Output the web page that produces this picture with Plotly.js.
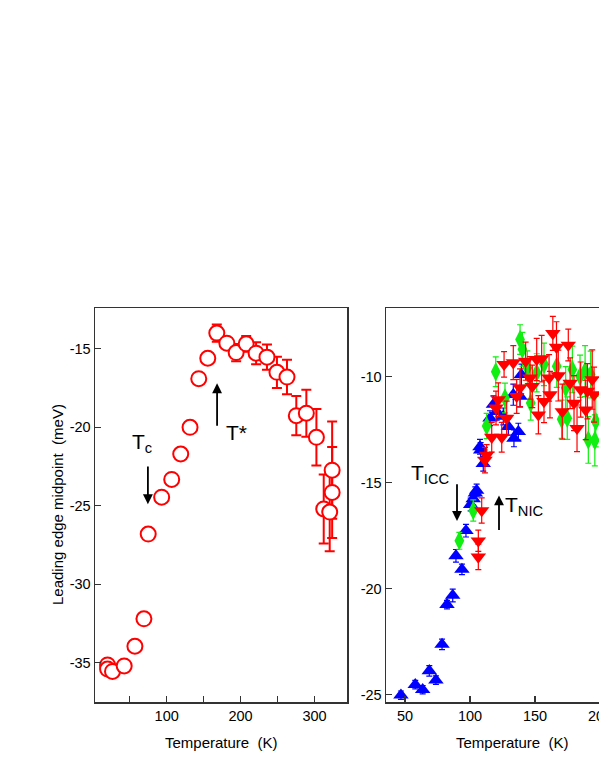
<!DOCTYPE html>
<html>
<head>
<meta charset="utf-8">
<script src="https://cdn.plot.ly/plotly-3.0.1.min.js"></script>
<style>
  body { margin: 0; overflow: hidden; background: #fff; }
</style>
</head>
<body>
<div id="myDiv" style="width:660px;height:776px;"></div>
<script>
// left panel: leading edge midpoint vs temperature
var tempA = [20, 20, 26.7, 42.5, 57, 69.2, 75, 93.2, 106.8, 119, 131.6, 143.4, 155.6,
             167.8, 181.4, 194, 207.6, 221, 235.7, 249.2, 262.8, 275.4, 289, 302.6,
             312.5, 320.6, 323.9, 323.9];
var edgeA = [-35.14, -35.4, -35.55, -35.2, -33.95, -32.2, -26.8, -24.45, -23.32, -21.7, -20.0, -16.9, -15.6,
             -14.0, -14.64, -15.24, -14.68, -15.28, -15.53, -16.5, -16.8, -19.26, -19.1, -20.64,
             -25.2, -25.4, -22.73, -24.15];
var errA  = [0, 0, 0, 0, 0, 0, 0, 0, 0, 0, 0, 0, 0,
             0.55, 0.3, 0.55, 0.5, 0.7, 0.8, 1.0, 1.1, 1.25, 1.5, 1.8,
             2.2, 2.5, 3.1, 2.9];

// right panel: three data sets
var tempBlue = [46.9, 57.9, 63.6, 68.7, 73.8, 78.5, 82.3, 86.7, 89.2, 93.8, 96.9, 100.5, 102.5,
                104.1, 105.1, 107.7, 110.2, 108.2, 115.4, 118, 120.5, 125.6, 129.5, 133.8,
                137.2, 133.3, 138.5, 139.5];
var edgeBlue = [-25.03, -24.53, -24.77, -23.88, -24.32, -22.63, -20.75, -20.32, -18.45, -19.09, -17.26, -16.03, -15.76,
                -15.49, -15.36, -13.3, -14.1, -13.46, -11.95, -11.3, -11.64, -11.87, -12.35, -12.9,
                -12.59, -10.84, -10.92, -9.9];
var errBlue  = [0.2, 0.2, 0.2, 0.25, 0.2, 0.25, 0.2, 0.3, 0.3, 0.25, 0.3, 0.3, 0.3,
                0.3, 0.3, 0.35, 0.35, 0.35, 0.35, 0.4, 0.4, 0.4, 0.4, 0.4,
                0.4, 0.5, 0.5, 0.5];

var tempGreen = [91.8, 102.5, 112.8, 119.8, 126.9, 138.5, 140.3, 144.1, 146.7, 151.3, 156.9, 166.7,
                 170.5, 173.6, 174.8, 178.7, 184.6, 188.5, 191, 192.8, 196.7, 196];
var edgeGreen = [-17.74, -16.31, -12.32, -9.76, -11.0, -8.24, -8.7, -9.57, -11.24, -9.81, -9.41, -9.5,
                 -12.0, -10.52, -11.95, -9.65, -9.97, -9.73, -12.98, -9.89, -12.11, -13.0];
var errGreen  = [0.4, 0.5, 0.6, 0.7, 0.7, 0.7, 0.8, 0.8, 0.8, 0.9, 1.0, 1.0,
                 0.9, 1.0, 1.0, 1.1, 1.0, 1.2, 1.1, 1.1, 1.2, 1.2];

var tempRed = [106.4, 106.4, 109, 111.5, 112.8, 116.7, 124.4, 120, 121.8, 128.2, 126.2, 133.3,
               135.9, 138.5, 142.8, 146.2, 147.9, 151.3, 155.1, 152.6, 156.9, 160.8, 161.5,
               163.7, 166.5, 167.9, 171, 175.6, 177, 180, 182.3, 185.1, 189, 190.3, 194, 195.4];
var edgeRed = [-18.5, -17.74, -16.31, -13.93, -13.7, -12.85, -12.85, -11.47, -11.08, -11.95, -9.41, -9.33,
               -10.92, -10.52, -9.26, -10.05, -10.45, -9.18, -9.14, -11.79, -11.16, -10.05, -10.84,
               -7.95, -8.6, -9.94, -11.64, -8.5, -10.3, -11.24, -12.43, -10.6, -11.56, -10.68, -10.13, -10.84];
var errRed  = [0.6, 0.5, 0.6, 0.6, 0.5, 0.7, 0.7, 0.8, 0.8, 0.8, 0.6, 0.8,
               0.8, 0.9, 0.9, 1.0, 1.0, 1.0, 1.1, 0.9, 1.0, 1.1, 1.1,
               0.8, 1.2, 1.2, 1.3, 0.75, 1.2, 1.3, 1.1, 1.3, 1.4, 1.3, 1.4, 1.3];

// tick labels (plain hyphen as in the original figure)
var yTicksA = [-35, -30, -25, -20, -15];
var yLabelsA = ['-35', '-30', '-25', '-20', '-15'];
var yTicksB = [-25, -20, -15, -10];
var yLabelsB = ['-25', '-20', '-15', '-10'];

var W = 660, H = 776;
var fnt = 'Liberation Sans, Arial, sans-serif';

var data = [
  {
    x: tempA, y: edgeA, xaxis: 'x', yaxis: 'y',
    type: 'scatter', mode: 'markers',
    marker: { symbol: 'circle', size: 15, color: '#ffffff', line: { color: '#ff0000', width: 2 } },
    error_y: { type: 'data', array: errA, visible: true, color: '#ff0000', thickness: 2, width: 5 }
  },
  {
    x: tempBlue, y: edgeBlue, xaxis: 'x2', yaxis: 'y2',
    type: 'scatter', mode: 'markers',
    marker: { symbol: 'triangle-up', size: 13.5, color: '#0000ff' },
    error_y: { type: 'data', array: errBlue, visible: true, color: '#0000ff', thickness: 1.2, width: 3 }
  },
  {
    x: tempGreen, y: edgeGreen, xaxis: 'x2', yaxis: 'y2',
    type: 'scatter', mode: 'markers',
    marker: { symbol: 'diamond-tall', size: 14, color: '#11ee11' },
    error_y: { type: 'data', array: errGreen, visible: true, color: '#11ee11', thickness: 1.2, width: 3 }
  },
  {
    x: tempRed, y: edgeRed, xaxis: 'x2', yaxis: 'y2',
    type: 'scatter', mode: 'markers',
    marker: { symbol: 'triangle-down', size: 13.5, color: '#ff0000' },
    error_y: { type: 'data', array: errRed, visible: true, color: '#ff0000', thickness: 1.2, width: 3 }
  }
];

var axisStyle = {
  showline: true, mirror: true, linecolor: '#333', linewidth: 1.5,
  ticks: 'inside', ticklen: 6, tickcolor: '#333', tickwidth: 1.2,
  showgrid: false, zeroline: false,
  tickfont: { family: fnt, size: 14.5, color: '#000' }
};

function ax(extra) { return Object.assign({}, axisStyle, extra); }

var yDom = [(H - 702) / H, (H - 308) / H];

function arrow(xr, yr, x, y, axv, ayv) {
  return { xref: xr, yref: yr, axref: xr, ayref: yr, x: x, y: y, ax: axv, ay: ayv,
           text: '', showarrow: true, arrowhead: 2, arrowsize: 1.1, arrowwidth: 1.8, arrowcolor: '#000' };
}
function label(xr, yr, x, y, txt) {
  return { xref: xr, yref: yr, x: x, y: y, text: txt, showarrow: false,
           xanchor: 'center', yanchor: 'middle',
           font: { family: fnt, size: 21, color: '#000' } };
}
function title(x, y, txt, angle) {
  return { xref: 'paper', yref: 'paper', x: x / W, y: (H - y) / H, text: txt, textangle: angle,
           xanchor: 'center', yanchor: 'middle', showarrow: false,
           font: { family: fnt, size: 15, color: '#000' } };
}

var layout = {
  width: W, height: H,
  margin: { l: 0, r: 0, t: 0, b: 0 },
  paper_bgcolor: '#fff', plot_bgcolor: '#fff',
  showlegend: false,
  xaxis: ax({ domain: [95 / W, 347 / W], range: [3, 344], tick0: 0, dtick: 100, anchor: 'y',
              minor: { dtick: 50, ticks: 'inside', ticklen: 6, tickcolor: '#333' } }),
  yaxis: ax({ domain: yDom, range: [-37.5, -12.4], tickmode: 'array', tickvals: yTicksA, ticktext: yLabelsA, anchor: 'x' }),
  xaxis2: ax({ domain: [386 / W, 638 / W], range: [35.4, 229.2], tick0: 0, dtick: 50, anchor: 'y2' }),
  yaxis2: ax({ domain: yDom, range: [-25.35, -6.75], tickmode: 'array', tickvals: yTicksB, ticktext: yLabelsB, anchor: 'x2' }),
  annotations: [
    title(57, 505, 'Leading edge midpoint  (meV)', -90),
    title(221, 742, 'Temperature  (K)', 0),
    title(512, 742, 'Temperature  (K)', 0),
    arrow('x', 'y', 74.6, -24.9, 74.6, -22.4),
    arrow('x', 'y', 168.2, -17.2, 168.2, -20.0),
    label('x', 'y', 67, -21.0, 'T<sub>c</sub>'),
    label('x', 'y', 194, -20.3, 'T*'),
    arrow('x2', 'y2', 90, -16.8, 90, -15.0),
    arrow('x2', 'y2', 122.3, -15.6, 122.3, -17.3),
    label('x2', 'y2', 70, -14.6, 'T<sub>ICC</sub>'),
    label('x2', 'y2', 142, -16.1, 'T<sub>NIC</sub>')
  ]
};

Plotly.newPlot('myDiv', data, layout, { displayModeBar: false, staticPlot: true });
</script>
</body>
</html>
